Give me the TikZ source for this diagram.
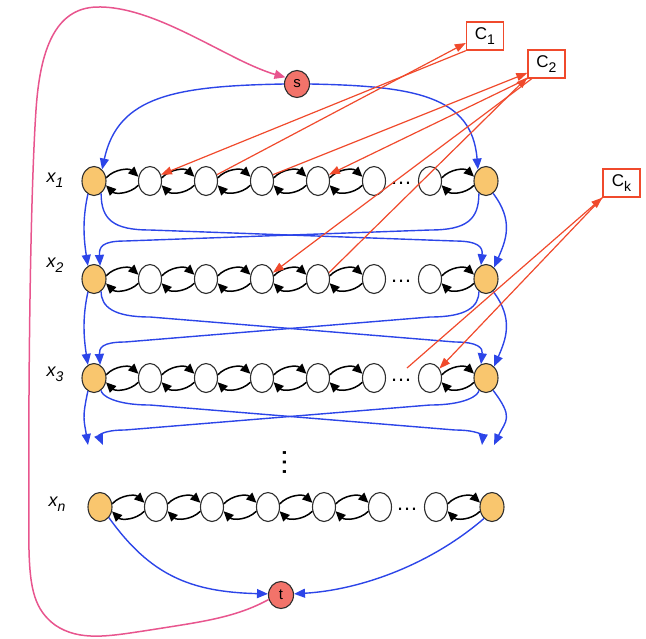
\documentclass[tikz,border=0pt]{standalone}
\usepackage{fontspec}
\setmainfont{Liberation Sans}
\usetikzlibrary{arrows.meta,shapes.geometric}

\definecolor{nodeorange}{HTML}{F9C66E}
\definecolor{termred}{HTML}{F2736A}
\definecolor{flowblue}{HTML}{2C45E8}
\definecolor{clausered}{HTML}{F04A2C}
\definecolor{loopink}{HTML}{E8558E}
\definecolor{rim}{HTML}{2E2E2E}

% variable label x_i and clause label C_j, subscripts nearly full size
\newcommand{\varlab}[1]{\fontsize{18}{18}\selectfont\itshape x\raisebox{-5pt}{\fontsize{14}{14}\selectfont #1}}
\newcommand{\clab}[1]{\fontsize{17}{17}\selectfont C\raisebox{-5pt}{\fontsize{14}{14}\selectfont #1}}

\begin{document}
\begin{tikzpicture}[x=1pt,y=1pt,
  var/.style={ellipse, draw=rim, line width=1.1pt, fill=nodeorange,
    minimum width=24pt, minimum height=29pt, inner sep=0pt},
  lit/.style={ellipse, draw=rim, line width=1.1pt, fill=white,
    minimum width=23pt, minimum height=29pt, inner sep=0pt},
  term/.style={ellipse, draw=rim, line width=1.1pt, fill=termred,
    minimum width=25pt, minimum height=27pt, inner sep=0pt,
    font=\fontsize{15}{15}\selectfont},
  clause/.style={rectangle, draw=clausered, line width=1.3pt, fill=white,
    minimum width=37pt, minimum height=28pt, inner sep=0pt},
  chain/.style={draw=black, line width=1.5pt,
    -{Triangle[length=10pt,width=9pt]}, bend left=45},
  flow/.style={draw=flowblue, line width=1.4pt,
    -{Triangle[length=11pt,width=9pt]}},
  link/.style={draw=clausered, line width=1.2pt,
    -{Triangle[length=11pt,width=8pt]}},
  back/.style={draw=loopink, line width=1.5pt,
    -{Triangle[length=11pt,width=9pt]}},
  hdots/.style={font=\fontsize{22}{22}\selectfont, inner sep=0pt}
]
\useasboundingbox (0,0) rectangle (646,-638);

% variable rows: orange end nodes with a chain of literal nodes between them
\foreach \ri/\yy/\dx in {1/181/0, 2/279/0, 3/378/0, 4/507/6} {
  \node[var] (r\ri L) at (94+\dx,-\yy) {};
  \foreach \kk/\xx in {1/150,2/206,3/262,4/318,5/374,6/430}
    \node[lit] (r\ri c\kk) at (\xx+\dx,-\yy) {};
  \node[hdots] (r\ri d) at (401+\dx,-\yy-2) {…};
  \node[var] (r\ri R) at (486+\dx,-\yy) {};
  \foreach \pa/\pb in {L/c1, c1/c2, c2/c3, c3/c4, c4/c5, c6/R} {
    \draw[chain] (r\ri\pa.15) to (r\ri\pb.160);
    \draw[chain] (r\ri\pb.200) to (r\ri\pa.-20);
  }
}

% row labels
\node (lab1) at (55,-180.5) {\varlab{1}};
\node (lab2) at (55,-265.5) {\varlab{2}};
\node (lab3) at (55,-374.5) {\varlab{3}};
\node (lab4) at (57,-504.5) {\varlab{n}};

\node[font=\fontsize{30}{30}\selectfont, inner sep=0pt, rotate=90] (vdots) at (285,-462) {…};

% source and sink
\node[term] (s) at (297,-84) {s};
\node[term] (t) at (281,-595) {t};

% clause boxes
\node[clause] (C1) at (485,-36) {\clab{1}};
\node[clause] (C2) at (546.5,-64) {\clab{2}};
\node[clause] (Ck) at (621.5,-183) {\clab{k}};

% entry points on the next row (or open ends below row 3)
\foreach \lb in {2,3} {
  \coordinate (e\lb Lo) at (r\lb L.115);
  \coordinate (e\lb Li) at (r\lb L.65);
  \coordinate (e\lb Ri) at (r\lb R.110);
  \coordinate (e\lb Ro) at (r\lb R.55);
}
\coordinate (e4Lo) at (88,-445);
\coordinate (e4Li) at (103,-445);
\coordinate (e4Ri) at (482,-445);
\coordinate (e4Ro) at (494,-445);

% s to the first row
\draw[flow] (s.west) .. controls (175,-86) and (118,-96) .. (r1L.55);
\draw[flow] (s.east) .. controls (415,-86) and (472,-96) .. (r1R.125);

% each end node feeds both end nodes of the next row
\foreach \ua/\lb/\ya/\hs/\he/\yt in {1/2/181/230/241/265, 2/3/279/317/342/364, 3/4/378/405/430/445} {
  \draw[flow] (r\ua L.245) .. controls (82,-\ya-40) and (84,-\yt+25) .. (e\lb Lo);
  \draw[flow] (r\ua R.-60) .. controls (514,-\ya-40) and (506,-\yt+25) .. (e\lb Ro);
  \draw[flow] (r\ua L.-60) .. controls (101,-\hs+10) and (114,-\hs) .. (150,-\hs)
     -- (455,-\he) .. controls (478,-\he) and (483,-\he-6) .. (e\lb Ri);
  \draw[flow] (r\ua R.240) .. controls (479,-\hs+10) and (466,-\hs) .. (430,-\hs)
     -- (125,-\he) .. controls (102,-\he) and (99,-\he-6) .. (e\lb Li);
}

% last row to t
\draw[flow] (r4L.-50) .. controls (150,-575) and (190,-592) .. (t.175);
\draw[flow] (r4R.235) .. controls (430,-565) and (360,-590) .. (t.5);

% clause links
\coordinate (r3tap) at (407,-368);
\draw[link] (C1.south west) -- (r1c1.30);
\draw[link] (r1c2.30) -- (C1.200);
\draw[link] (C2.south west) -- (r1c4.30);
\draw[link] (r1c3.30) -- (C2.205);
\draw[link] (C2.225) -- (r2c3.30);
\draw[link] (r2c4.30) -- (C2.215);
\draw[link] (Ck.south west) -- (r3c6.45);
\draw[link] (r3tap) -- (Ck.south west);

% return edge from t around to s
\draw[back] (t.200) .. controls (235,-618) and (200,-622) .. (150,-630)
  .. controls (110,-636) and (80,-642) .. (55,-625)
  .. controls (35,-610) and (30,-590) .. (29,-550)
  .. controls (28,-400) and (30,-200) .. (36,-110)
  .. controls (40,-50) and (55,-8) .. (97,-7)
  .. controls (140,-6) and (190,-35) .. (230,-55)
  .. controls (255,-68) and (270,-73) .. (s.150);
\end{tikzpicture}
\end{document}
